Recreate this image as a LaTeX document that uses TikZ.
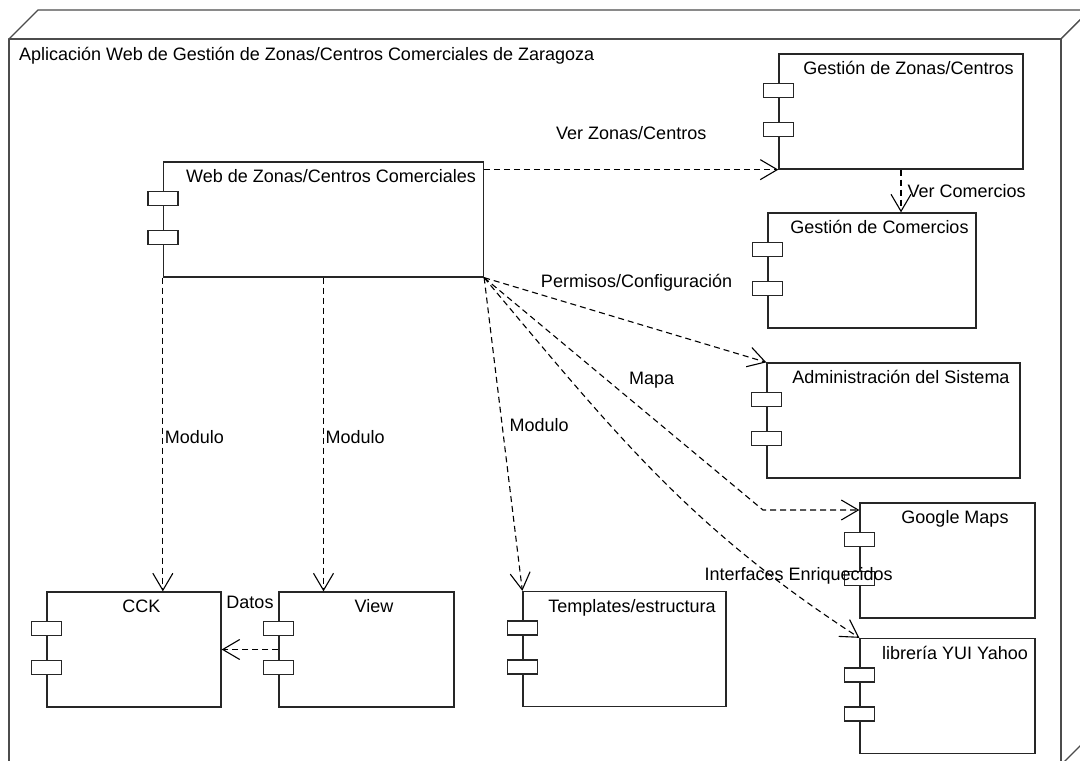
\documentclass[tikz,border=0pt]{standalone}
\usepackage{fontspec}
\setmainfont{Liberation Sans}
\usepackage{tikz}
\usetikzlibrary{arrows.meta}
\tikzstyle{arrow} = [-{Straight Barb[length=17pt,width=20pt]},dash pattern=on 6pt off 4pt,line width=1.1pt]
\tikzstyle{frame} = [draw=black!70,fill=white,line width=1.3pt,line join=round]
\tikzstyle{comp} = [draw=black!85,fill=white,line width=1.3pt,minimum height=115pt,inner sep=0pt]
\tikzstyle{ctitle} = [anchor=north,inner sep=0pt,text height=13pt,text depth=4pt,yshift=-8pt,xshift=7.5pt]
\tikzstyle{port} = [draw=black!85,fill=white,line width=1.3pt]
\newcommand{\ports}[1]{%
  \foreach \py in {30,69}
    \draw[port] ([shift={(-15,-\py)}]#1.north west) rectangle ++(30,-14);}

\begin{document}
\begin{tikzpicture}[x=1pt,y=1pt]
        \fontsize{18}{22}\selectfont
        \useasboundingbox (0,0) rectangle (1080,-761);
        \clip (0,0) rectangle (1080,-761);
        \fill[white] (0,0) rectangle (1080,-761);

        % node frame
        \draw[frame] (9,-39) -- (38,-10) -- (1090,-10) -- (1061,-39) -- cycle;
        \draw[frame] (1061,-39) -- (1090,-10) -- (1090,-736) -- (1061,-765) -- cycle;
        \draw[frame] (9,-39) rectangle (1061,-765);
        \node[anchor=north west,inner sep=0pt,text height=13pt,text depth=4pt] (apptitle) at (19,-47)
            {Aplicación Web de Gestión de Zonas/Centros Comerciales de Zaragoza};

        \node[comp, minimum width=320pt, label={[ctitle]north:Web de Zonas/Centros Comerciales}] at (323.5,-219.5) (web) {};
        \node[comp, minimum width=244pt, label={[ctitle]north:Gestión de Zonas/Centros}] at (901,-111.5) (gzc) {};
        \node[comp, minimum width=208pt, label={[ctitle]north:Gestión de Comercios}] at (872,-270.5) (gc) {};
        \node[comp, minimum width=253pt, label={[ctitle]north:Administración del Sistema}] at (893.5,-420.5) (admin) {};
        \node[comp, minimum width=175pt, label={[ctitle]north:Google Maps}] at (947.5,-560.5) (gmaps) {};
        \node[comp, minimum width=175pt, label={[ctitle]north:librería YUI Yahoo}] at (947.5,-696) (yui) {};
        \node[comp, minimum width=203pt, label={[ctitle]north:Templates/estructura}] at (624.5,-649) (tmpl) {};
        \node[comp, minimum width=174pt, label={[ctitle]north:CCK}] at (134,-649.5) (cck) {};
        \node[comp, minimum width=175pt, label={[ctitle]north:View}] at (366.5,-649.5) (view) {};

        \foreach \c in {web,gzc,gc,admin,gmaps,yui,tmpl,cck,view} {\ports{\c}}

        \coordinate (mapbend) at (763,-510);

        \draw[arrow] (web.east |- gzc.south west) -- (gzc.south west) node[midway,above=23pt]{Ver Zonas/Centros};
        \draw[arrow] (gzc.south) -- (gzc.south |- gc.north) node[midway,right]{Ver Comercios};
        \draw[arrow] (web.south east) -- (admin.north west) node[pos=0.54,above=26pt]{Permisos/Configuración};
        \draw[arrow] (web.south east) -- node[pos=0.5,xshift=28pt,yshift=14pt]{Mapa} (mapbend) -- (gmaps.west |- mapbend);
        \draw[arrow] (web.south east) to[out=-50,in=147] node[pos=0.81,xshift=27pt]{Interfaces Enriquecidos} (yui.north west);
        \draw[arrow] (web.south east) -- (tmpl.north west) node[pos=0.47,right=1pt]{Modulo};
        \draw[arrow] (web.south west) -- (web.south west |- cck.north) node[midway,right,inner sep=1.5pt,yshift=-3pt]{Modulo};
        \draw[arrow] (web.south) -- (web.south |- view.north) node[midway,right,inner sep=1.5pt,yshift=-3pt]{Modulo};
        \draw[arrow] (view.west) -- (cck.east) node[midway,above=34pt]{Datos};
\end{tikzpicture}
\end{document}
